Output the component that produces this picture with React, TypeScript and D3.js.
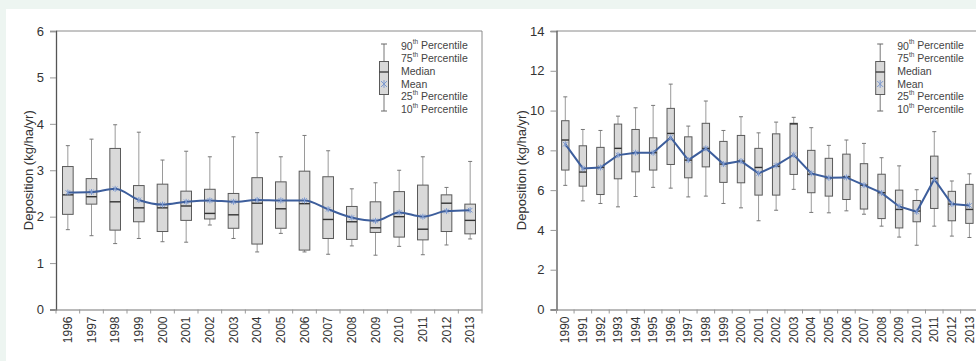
import { useEffect, useRef } from "react";
import * as d3 from "d3";

// left panel: 1996-2013
const yearsA = ["1996","1997","1998","1999","2000","2001","2002","2003","2004","2005","2006","2007","2008","2009","2010","2011","2012","2013"];
const p10A = [1.72,1.59,1.42,1.53,1.46,1.45,1.82,1.53,1.24,1.64,1.24,1.19,1.37,1.17,1.36,1.18,1.39,1.52];
const q1A = [2.05,2.27,1.71,1.89,1.68,1.92,1.95,1.75,1.41,1.75,1.28,1.53,1.51,1.66,1.56,1.50,1.68,1.63];
const medA = [2.47,2.43,2.32,2.19,2.19,2.23,2.07,2.04,2.29,2.17,2.28,1.94,1.89,1.76,2.00,1.73,2.29,1.92];
const meanA = [2.52,2.53,2.60,2.36,2.26,2.32,2.35,2.32,2.36,2.35,2.35,2.16,1.98,1.91,2.09,2.00,2.12,2.14];
const q3A = [3.08,2.82,3.47,2.67,2.70,2.55,2.59,2.50,2.84,2.75,2.98,2.86,2.22,2.32,2.54,2.68,2.47,2.27];
const p90A = [3.53,3.67,3.98,3.82,3.22,3.41,3.29,3.72,3.81,3.29,3.75,3.42,2.60,2.73,3.00,3.29,2.63,3.19];
const ticksA = [0,1,2,3,4,5,6];

// right panel: 1990-2013
const yearsB = ["1990","1991","1992","1993","1994","1995","1996","1997","1998","1999","2000","2001","2002","2003","2004","2005","2006","2007","2008","2009","2010","2011","2012","2013"];
const p10B = [6.24,5.46,5.33,5.16,5.68,6.14,6.10,5.66,5.70,5.33,5.11,4.46,4.99,6.04,4.88,4.86,4.96,4.79,4.19,3.64,3.23,4.19,3.69,3.62];
const q1B = [7.01,6.20,5.78,6.57,6.92,7.01,7.29,6.62,7.17,6.39,6.37,5.75,5.75,6.79,5.87,5.70,5.53,5.05,4.57,4.10,4.41,5.08,4.46,4.33];
const medB = [8.52,6.91,7.14,8.10,7.88,7.88,8.85,7.51,8.10,7.31,7.46,7.14,7.20,9.33,6.80,6.62,6.67,6.25,5.87,5.03,4.95,6.59,5.30,5.03];
const meanB = [8.31,7.09,7.14,7.76,7.88,7.88,8.65,7.51,8.10,7.31,7.46,6.84,7.24,7.78,6.84,6.62,6.64,6.25,5.86,5.18,4.91,6.55,5.30,5.23];
const q3B = [9.49,8.23,8.15,9.32,9.05,8.63,10.11,8.68,9.36,8.45,8.75,8.10,8.83,9.36,8.00,7.60,7.81,7.33,6.80,6.00,5.48,7.71,5.94,6.29];
const p90B = [10.69,9.05,9.00,9.72,10.14,10.26,11.33,9.22,10.48,9.00,9.69,8.88,9.42,9.66,9.14,8.25,8.52,8.35,7.63,7.22,6.02,8.94,6.46,6.82];
const ticksB = [0,2,4,6,8,10,12,14];

const legendLabels = [["90", "th", " Percentile"], ["75", "th", " Percentile"], ["Median", "", ""], ["Mean", "", ""], ["25", "th", " Percentile"], ["10", "th", " Percentile"]];

const FONT = "'Liberation Sans', Arial, sans-serif";

function drawPanel(svg, opts) {
  const { years, p10, q1, med, mean, q3, p90, ticks, yMax, left, right, top, bottom, labelX, boxFrac, smooth } = opts;
  const rows = years.map((y, i) => ({ y, p10: p10[i], q1: q1[i], med: med[i], mean: mean[i], q3: q3[i], p90: p90[i] }));

  const x = d3.scaleBand().domain(years).range([left, right]).padding(0);
  const yS = d3.scaleLinear().domain([0, yMax]).range([bottom, top]);
  const g = svg.append("g");

  // frame
  g.append("line").attr("x1", left).attr("x2", right).attr("y1", top).attr("y2", top).attr("stroke", "#8a8a8a");
  g.append("line").attr("x1", right).attr("x2", right).attr("y1", top).attr("y2", bottom).attr("stroke", "#8a8a8a");

  // y axis
  const ya = g.append("g").attr("transform", `translate(${left},0)`)
    .call(d3.axisLeft(yS).tickValues(ticks).tickSize(6).tickPadding(6).tickFormat(d3.format("d")));
  ya.select(".domain").attr("stroke", "#555").attr("stroke-width", 1.3);
  ya.selectAll(".tick line").attr("stroke", "#999");
  ya.selectAll("text").attr("font-family", FONT).attr("font-size", 13).attr("fill", "#333");

  // x axis
  const xa = g.append("g").attr("transform", `translate(0,${bottom})`)
    .call(d3.axisBottom(x).tickSize(0).tickPadding(7));
  xa.select(".domain").attr("stroke", "#777").attr("stroke-width", 1.2);
  xa.selectAll("text")
    .attr("font-family", FONT).attr("font-size", 12).attr("fill", "#333")
    .attr("transform", "rotate(-90)")
    .attr("text-anchor", "end")
    .attr("x", -7).attr("y", 0).attr("dy", "0.35em");
  // boundary ticks
  g.append("g").selectAll("line").data(years.concat(["end"])).join("line")
    .attr("x1", (d, i) => left + i * x.bandwidth())
    .attr("x2", (d, i) => left + i * x.bandwidth())
    .attr("y1", bottom).attr("y2", bottom + 4)
    .attr("stroke", "#999");

  // y label
  g.append("text")
    .attr("transform", `translate(${labelX},${(top + bottom) / 2}) rotate(-90)`)
    .attr("text-anchor", "middle").attr("dy", "0.35em")
    .attr("font-family", FONT).attr("font-size", 13).attr("fill", "#333")
    .text("Deposition (kg/ha/yr)");

  const bw = x.bandwidth() * boxFrac;
  const cx = d => x(d.y) + x.bandwidth() / 2;

  const boxes = g.append("g").selectAll("g").data(rows).join("g");
  boxes.append("line").attr("x1", cx).attr("x2", cx).attr("y1", d => yS(d.p90)).attr("y2", d => yS(d.q3)).attr("stroke", "#9a9a9a");
  boxes.append("line").attr("x1", cx).attr("x2", cx).attr("y1", d => yS(d.q1)).attr("y2", d => yS(d.p10)).attr("stroke", "#9a9a9a");
  boxes.append("line").attr("x1", d => cx(d) - 2).attr("x2", d => cx(d) + 2).attr("y1", d => yS(d.p90)).attr("y2", d => yS(d.p90)).attr("stroke", "#777");
  boxes.append("line").attr("x1", d => cx(d) - 2).attr("x2", d => cx(d) + 2).attr("y1", d => yS(d.p10)).attr("y2", d => yS(d.p10)).attr("stroke", "#777");
  boxes.append("rect")
    .attr("x", d => cx(d) - bw / 2).attr("width", bw)
    .attr("y", d => yS(d.q3)).attr("height", d => yS(d.q1) - yS(d.q3))
    .attr("fill", "#d9d9d9").attr("stroke", "#5a5a5a").attr("stroke-width", 1);
  boxes.append("line").attr("x1", d => cx(d) - bw / 2).attr("x2", d => cx(d) + bw / 2)
    .attr("y1", d => yS(d.med)).attr("y2", d => yS(d.med)).attr("stroke", "#333").attr("stroke-width", 1.4);

  // mean line
  const line = d3.line().x(cx).y(d => yS(d.mean)).curve(smooth ? d3.curveMonotoneX : d3.curveLinear);
  g.append("path").datum(rows).attr("d", line).attr("fill", "none").attr("stroke", "#3d5e9c").attr("stroke-width", 2);

  const star = (sel, px, py, r) => {
    sel.append("path")
      .attr("d", `M${px - r},${py - r}L${px + r},${py + r}M${px - r},${py + r}L${px + r},${py - r}M${px},${py - r * 1.3}L${px},${py + r * 1.3}`)
      .attr("stroke", "#7f9bd0").attr("stroke-width", 1).attr("fill", "none");
  };
  rows.forEach(d => star(g, cx(d), yS(d.mean), 2.3));

  // legend
  const lx = right - 98;
  const lg = g.append("g");
  lg.append("line").attr("x1", lx).attr("x2", lx).attr("y1", 44).attr("y2", 111).attr("stroke", "#777");
  lg.append("line").attr("x1", lx - 3).attr("x2", lx + 3).attr("y1", 44).attr("y2", 44).attr("stroke", "#666");
  lg.append("line").attr("x1", lx - 3).attr("x2", lx + 3).attr("y1", 111).attr("y2", 111).attr("stroke", "#666");
  lg.append("rect").attr("x", lx - 4.5).attr("y", 61.5).attr("width", 9).attr("height", 33)
    .attr("fill", "#d9d9d9").attr("stroke", "#5a5a5a");
  lg.append("line").attr("x1", lx - 4.5).attr("x2", lx + 4.5).attr("y1", 72).attr("y2", 72).attr("stroke", "#333").attr("stroke-width", 1.3);
  star(lg, lx, 84, 3);
  legendLabels.forEach((lab, i) => {
    const t = lg.append("text").attr("x", lx + 17).attr("y", 46 + i * 12.7).attr("dy", "0.35em")
      .attr("font-family", FONT).attr("font-size", 10.5).attr("fill", "#444");
    t.append("tspan").text(lab[0]);
    if (lab[1]) {
      t.append("tspan").attr("font-size", 6.5).attr("dy", "-0.8em").text(lab[1]);
      t.append("tspan").attr("dy", "0.45em").text(lab[2]);
    }
  });
}

const App = () => {
  const svgRef = useRef(null);

  useEffect(() => {
    const svg = d3.select(svgRef.current);
    svg.selectAll("*").remove();

    svg.append("rect").attr("width", 976).attr("height", 361).attr("fill", "#edf5f1");
    svg.append("rect").attr("x", 6).attr("y", 9).attr("width", 970).attr("height", 352).attr("fill", "#ffffff");

    drawPanel(svg, {
      years: yearsA, p10: p10A, q1: q1A, med: medA, mean: meanA, q3: q3A, p90: p90A,
      ticks: ticksA, yMax: 6, left: 56, right: 482, top: 31, bottom: 309.5, labelX: 28, boxFrac: 0.45, smooth: true
    });
    drawPanel(svg, {
      years: yearsB, p10: p10B, q1: q1B, med: medB, mean: meanB, q3: q3B, p90: p90B,
      ticks: ticksB, yMax: 14, left: 556.5, right: 978.2, top: 31, bottom: 309.5, labelX: 521, boxFrac: 0.42, smooth: false
    });
  }, []);

  return (
    <svg ref={svgRef} width={976} height={361}
      style={{ position: "absolute", left: 0, top: 0, display: "block" }} />
  );
};

export default App;
